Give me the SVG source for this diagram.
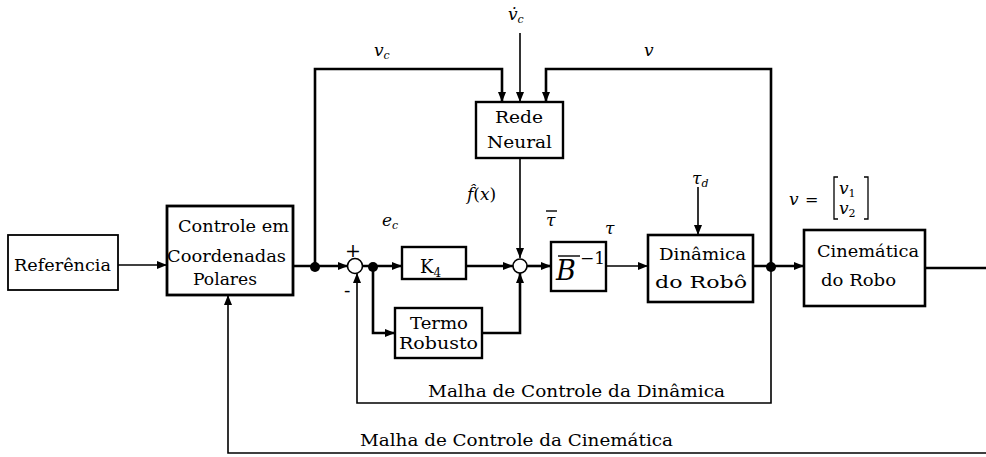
<svg xmlns="http://www.w3.org/2000/svg" width="986" height="457" viewBox="0 0 986 457">
<style>
.box{fill:#fff;stroke:#000}
.t{font-family:"DejaVu Serif","Liberation Serif",serif;font-size:16px;fill:#000}
.m{font-family:"DejaVu Serif","Liberation Serif",serif;font-style:italic;font-size:17px;fill:#000}
.s{font-family:"DejaVu Serif","Liberation Serif",serif;font-style:italic;font-size:11px;fill:#000}
.k{fill:none;stroke:#000;stroke-width:2.6}
.n{fill:none;stroke:#000;stroke-width:1.6}
.dot{fill:#000}
</style>
<defs>
<marker id="a" viewBox="0 0 10 8" refX="10" refY="4" markerWidth="10" markerHeight="8" markerUnits="userSpaceOnUse" orient="auto">
<path d="M0,0 L10,4 L0,8 Z" fill="#000"/>
</marker>
</defs>
<rect width="986" height="457" fill="#fff"/>
<g id="connectors">
<path class="n" d="M118,265 H167" marker-end="url(#a)"/>
<path class="k" d="M293,266 H348" marker-end="url(#a)"/>
<path class="k" d="M315,266 V69 H502 V102" marker-end="url(#a)"/>
<path class="n" d="M520,33 V102" marker-end="url(#a)"/>
<path class="k" d="M771,266 V69 H546 V102" marker-end="url(#a)"/>
<path class="n" d="M520,158 V258" marker-end="url(#a)"/>
<path class="k" d="M362,266 H402" marker-end="url(#a)"/>
<path class="k" d="M466,266 H513" marker-end="url(#a)"/>
<path class="k" d="M373,266 V333 H395" marker-end="url(#a)"/>
<path class="k" d="M482,333 H520 V273" marker-end="url(#a)"/>
<path class="k" d="M527,266 H551" marker-end="url(#a)"/>
<path class="n" d="M606,266 H648" marker-end="url(#a)"/>
<path class="k" d="M753,266 H804" marker-end="url(#a)"/>
<path class="n" d="M698,187 V235" marker-end="url(#a)"/>
<path class="n" d="M771,266 V403 H357 V273" marker-end="url(#a)"/>
<path class="k" d="M925,268 H986"/>
<path class="n" d="M986,453 H228 V295" marker-end="url(#a)"/>
<circle class="dot" cx="315" cy="267" r="5"/>
<circle class="dot" cx="373" cy="267" r="5"/>
<circle class="dot" cx="771" cy="267" r="5"/>
</g>
<g id="referencia">
<rect class="box" x="8" y="235" width="110" height="55" stroke-width="1.8"/>
<text class="t" x="14" y="271" textLength="97" lengthAdjust="spacingAndGlyphs">Referência</text>
</g>
<g id="controle">
<rect class="box" x="167" y="206" width="126" height="89" stroke-width="2.8"/>
<text class="t" x="178" y="232" textLength="111" lengthAdjust="spacingAndGlyphs">Controle em</text>
<text class="t" x="167" y="262" textLength="119" lengthAdjust="spacingAndGlyphs">Coordenadas</text>
<text class="t" x="193" y="285" textLength="64" lengthAdjust="spacingAndGlyphs">Polares</text>
</g>
<g id="rede-neural">
<rect class="box" x="476" y="102" width="87" height="56" stroke-width="2.4"/>
<text class="t" x="495" y="123" textLength="48" lengthAdjust="spacingAndGlyphs">Rede</text>
<text class="t" x="487" y="148" textLength="65" lengthAdjust="spacingAndGlyphs">Neural</text>
</g>
<g id="soma1">
<circle cx="355" cy="266" r="7.5" fill="#fff" stroke="#000" stroke-width="1.6"/>
<text class="t" x="345" y="257" style="font-size:19px">+</text>
<text class="t" x="344" y="297" style="font-size:19px">-</text>
</g>
<g id="k4">
<rect class="box" x="402" y="247" width="64" height="32" stroke-width="2.4"/>
<text class="t" x="420" y="273" style="font-size:18px">K<tspan style="font-size:12px" dy="4">4</tspan></text>
</g>
<g id="soma2">
<circle cx="520" cy="266" r="7" fill="#fff" stroke="#000" stroke-width="1.6"/>
</g>
<g id="termo-robusto">
<rect class="box" x="395" y="308" width="87" height="50" stroke-width="2.4"/>
<text class="t" x="410" y="329" textLength="58" lengthAdjust="spacingAndGlyphs">Termo</text>
<text class="t" x="399" y="349" textLength="79" lengthAdjust="spacingAndGlyphs">Robusto</text>
</g>
<g id="b-inversa">
<rect class="box" x="551" y="242" width="55" height="49" stroke-width="2.4"/>
<text class="m" x="556" y="280" style="font-size:27px">B</text>
<line x1="558" y1="256" x2="580" y2="256" stroke="#000" stroke-width="1.4"/>
<text class="t" x="580" y="264" style="font-size:17px">−1</text>
</g>
<g id="dinamica">
<rect class="box" x="648" y="235" width="105" height="67" stroke-width="2.6"/>
<text class="t" x="659" y="260" textLength="87" lengthAdjust="spacingAndGlyphs">Dinâmica</text>
<text class="t" x="655" y="288" textLength="92" lengthAdjust="spacingAndGlyphs">do Robô</text>
</g>
<g id="cinematica">
<rect class="box" x="804" y="230" width="121" height="76" stroke-width="2.6"/>
<text class="t" x="817" y="257" textLength="102" lengthAdjust="spacingAndGlyphs">Cinemática</text>
<text class="t" x="821" y="286" textLength="75" lengthAdjust="spacingAndGlyphs">do Robo</text>
</g>
<g id="labels">
<text class="m" x="508" y="20">v̇<tspan class="s" dy="3">c</tspan></text>
<text class="m" x="374" y="56">v<tspan class="s" dy="3">c</tspan></text>
<text class="m" x="644" y="56">v</text>
<text class="m" x="467" y="200">f̂<tspan style="font-style:normal">(</tspan>x<tspan style="font-style:normal">)</tspan></text>
<text class="m" x="382" y="226">e<tspan class="s" dy="3">c</tspan></text>
<text class="m" x="546" y="226">τ</text>
<line x1="546" y1="211" x2="557" y2="211" stroke="#000" stroke-width="1.4"/>
<text class="m" x="605" y="234">τ</text>
<text class="m" x="692" y="184">τ<tspan class="s" dy="3">d</tspan></text>
<text class="m" x="789" y="205">v</text>
<text class="t" x="805" y="205">=</text>
<path d="M838,177 H834 V219 H838 M864,177 H868 V219 H864" fill="none" stroke="#000" stroke-width="1.3"/>
<text class="m" x="839" y="194">v<tspan class="s" style="font-style:normal" dy="3">1</tspan></text>
<text class="m" x="839" y="214">v<tspan class="s" style="font-style:normal" dy="3">2</tspan></text>
<text class="t" x="428" y="397" textLength="297" lengthAdjust="spacingAndGlyphs">Malha de Controle da Dinâmica</text>
<text class="t" x="360" y="446" textLength="313" lengthAdjust="spacingAndGlyphs">Malha de Controle da Cinemática</text>
</g>
</svg>
